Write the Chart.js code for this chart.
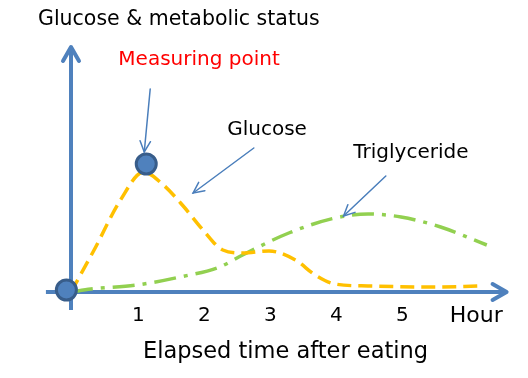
<!DOCTYPE html>
<html><head><meta charset="utf-8">
<script src="https://cdn.jsdelivr.net/npm/chart.js@4"></script>
<style>html,body{margin:0;padding:0;background:#fff}#w{width:528px;height:378px}</style>
</head><body><div id="w"><canvas id="c" width="528" height="378"></canvas></div>
<script>
// Data (hours after eating, relative level)
const glucose = [[0,0],[0.35,42],[0.75,92],[1.1,120],[1.4,107],[1.7,86],[2.0,62],[2.3,42],[2.6,39],[3.0,41],[3.4,32],[3.7,17],[4.0,8],[4.5,6],[5.5,5],[6.2,6]];
const triglyceride = [[0,0],[0.3,3],[1.0,7],[1.65,15],[2.25,25],[2.6,37],[3.3,59],[4.0,74],[4.5,78],[5.0,75],[5.6,65],[6.3,47]];
const measuringPoints = [[-0.07,2],[1.14,128]];
const tickValues = [1,2,3,4,5];
const tickLabels = ["1","2","3","4","5"];
const unitLabel = "Hour";
const xTitle = "Elapsed time after eating";
const yTitle = "Glucose & metabolic status";
const notes = [
  {text:"Measuring point", color:"#FF0000", at:[1.94,232], from:[1.2,203], to:[1.11,140]},
  {text:"Glucose", color:"#000", at:[2.97,162], from:[2.77,144], to:[1.85,99]},
  {text:"Triglyceride", color:"#000", at:[5.15,139], from:[4.77,116], to:[4.13,76]}
];

const toXY = a => a.map(p => ({x:p[0], y:p[1]}));
const AXIS = '#4F81BD', ARROW = '#4A7EBB';

const drawPlugin = {
  id:'schematic',
  beforeDatasetsDraw(chart){
    const ctx = chart.ctx, xs = chart.scales.x, ys = chart.scales.y;
    const X = v => xs.getPixelForValue(v), Y = v => ys.getPixelForValue(v);
    ctx.save();
    ctx.strokeStyle = AXIS; ctx.lineWidth = 4; ctx.lineCap = 'butt';
    const x0 = X(-0.38), x1 = X(6.6), y0 = Y(0);
    ctx.beginPath(); ctx.moveTo(x0,y0); ctx.lineTo(x1-2,y0); ctx.stroke();
    ctx.lineCap='round'; ctx.lineJoin='round';
    ctx.beginPath(); ctx.moveTo(x1-14,y0-8); ctx.lineTo(x1,y0); ctx.lineTo(x1-14,y0+8); ctx.stroke();
    const xa = X(0), yb = Y(-18), yt = Y(245);
    ctx.lineCap='butt';
    ctx.beginPath(); ctx.moveTo(xa,yb); ctx.lineTo(xa,yt+2); ctx.stroke();
    ctx.lineCap='round';
    ctx.beginPath(); ctx.moveTo(xa-8,yt+14); ctx.lineTo(xa,yt); ctx.lineTo(xa+8,yt+14); ctx.stroke();
    ctx.restore();
  },
  afterDatasetsDraw(chart){
    const ctx = chart.ctx, xs = chart.scales.x, ys = chart.scales.y;
    const X = v => xs.getPixelForValue(v), Y = v => ys.getPixelForValue(v);
    ctx.save();
    ctx.font = '20px "DejaVu Sans"'; ctx.fillStyle = '#000';
    ctx.textAlign='center'; ctx.textBaseline='middle';
    tickValues.forEach((v,i)=>ctx.fillText(tickLabels[i], X(v+0.02), Y(-24)));
    ctx.font = '22px "DejaVu Sans"';
    ctx.fillText(unitLabel, X(6.14), Y(-24));
    ctx.font = '22.5px "DejaVu Sans"';
    ctx.fillText(xTitle, X(3.25), Y(-60));
    ctx.font = '20.5px "DejaVu Sans"'; ctx.textAlign='left';
    ctx.fillText(yTitle, 38, 20);
    ctx.font = '20px "DejaVu Sans"'; ctx.textAlign='center';
    notes.forEach(n=>{
      ctx.fillStyle = n.color;
      ctx.fillText(n.text, X(n.at[0]), Y(n.at[1]));
      const fx=X(n.from[0]), fy=Y(n.from[1]), tx=X(n.to[0]), ty=Y(n.to[1]);
      ctx.strokeStyle = ARROW; ctx.lineWidth = 1.5; ctx.lineCap='round';
      ctx.beginPath(); ctx.moveTo(fx,fy); ctx.lineTo(tx,ty); ctx.stroke();
      const a = Math.atan2(ty-fy, tx-fx), L=12, s=0.45;
      ctx.beginPath();
      ctx.moveTo(tx-L*Math.cos(a-s), ty-L*Math.sin(a-s));
      ctx.lineTo(tx,ty);
      ctx.lineTo(tx-L*Math.cos(a+s), ty-L*Math.sin(a+s));
      ctx.stroke();
    });
    ctx.restore();
  }
};

new Chart(document.getElementById('c'), {
  type:'line',
  data:{datasets:[
    {label:'Glucose', data:toXY(glucose), borderColor:'#FFC000', borderWidth:3.5, borderDash:[14,7], pointRadius:0, tension:0.4, cubicInterpolationMode:'monotone', fill:false, order:2},
    {label:'Triglyceride', data:toXY(triglyceride), borderColor:'#92D050', borderWidth:3.5, borderDash:[22,8,4,8], pointRadius:0, tension:0.4, cubicInterpolationMode:'monotone', fill:false, order:3},
    {label:'Measuring point', type:'scatter', data:toXY(measuringPoints), pointRadius:10, pointBackgroundColor:'#4F81BD', pointBorderColor:'#385D8A', pointBorderWidth:3, showLine:false, order:1}
  ]},
  options:{
    responsive:false, animation:false, devicePixelRatio:1,
    layout:{padding:{left:38, right:21.4, top:42, bottom:66}},
    plugins:{legend:{display:false}, tooltip:{enabled:false}},
    scales:{
      x:{type:'linear', min:-0.5, max:6.6, display:false},
      y:{type:'linear', min:-20, max:250, display:false}
    }
  },
  plugins:[drawPlugin]
});
</script></body></html>
